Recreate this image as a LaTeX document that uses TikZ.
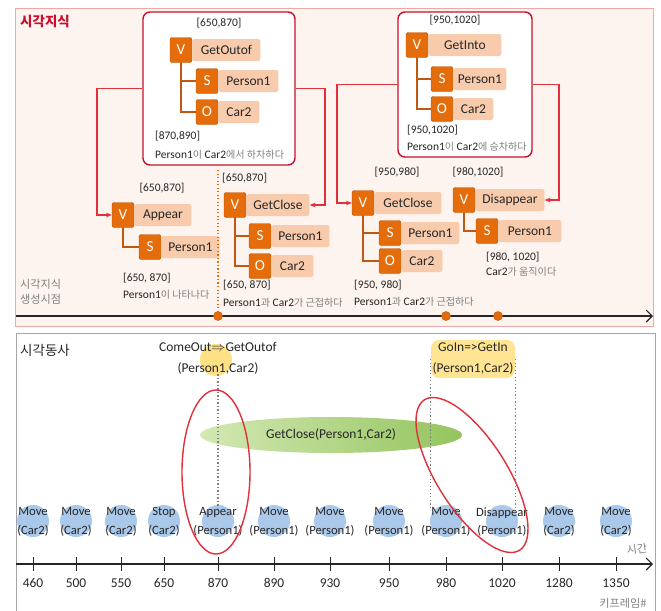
\documentclass[tikz,border=0pt]{standalone}
\usepackage{fontspec}
\setmainfont{Carlito}
\newfontfamily\krfont{Noto Sans CJK KR}
\usetikzlibrary{arrows.meta,positioning,fit}
\definecolor{Ink}{HTML}{262626}
\definecolor{Note}{HTML}{808080}
\definecolor{Rose}{HTML}{F2A7A7}
\definecolor{Blush}{HTML}{FDF3EF}
\definecolor{Crimson}{HTML}{C8102E}
\definecolor{Wire}{HTML}{E0303A}
\definecolor{Orange}{HTML}{E46C0A}
\definecolor{Rust}{HTML}{C0590F}
\definecolor{Peach}{HTML}{F8CBAD}
\definecolor{Sky}{HTML}{A9C8EA}
\definecolor{Butter}{HTML}{FFD966}
\definecolor{Lime}{HTML}{D3E8B3}
\definecolor{Leaf}{HTML}{94C45E}
\definecolor{Frame}{HTML}{A6A6A6}
\newcommand{\ko}[1]{{\krfont\fontsize{8.6}{10}\selectfont\color{Note}#1}}
\newcommand{\role}[6]{
  \node[rolebox] (#1) at (#2,#3) {#4};
  \node[namebox, minimum width=#6*0.03cm, right=0pt of #1] (#1t) {#5};
}
\tikzset{
  rolebox/.style={fill=Orange, draw=Rust, rounded corners=2pt, minimum width=0.66cm,
    minimum height=0.75cm, inner sep=0pt, text=white, font=\fontsize{13}{14}\selectfont},
  namebox/.style={fill=Peach, rounded corners=2pt, minimum height=0.66cm, inner sep=0pt,
    text=Ink, font=\fontsize{11.5}{13}\selectfont},
  tree/.style={draw=Rust, line width=1pt},
  link/.style={draw=Wire, line width=1pt, -{Stealth[length=5pt,width=4pt]}},
  outerbox/.style={draw=Crimson, line width=1.2pt, rounded corners=6pt, fill=white, inner sep=0pt},
  span/.style={text=Ink, font=\fontsize{9.8}{11}\selectfont, inner sep=0pt},
  note/.style={span, anchor=west},
  verb/.style={align=center, text=Ink, font=\fontsize{10.8}{16}\selectfont, inner sep=0pt},
  event/.style={align=center, text=Ink, font=\fontsize{11.5}{18}\selectfont, inner sep=0pt},
  axis/.style={draw=Ink, line width=1pt, -{Straight Barb[length=5pt]}},
  dot/.style={circle, fill=Orange, draw=Rust, minimum size=0.27cm, inner sep=0pt},
  cue/.style={draw=Orange, dotted, line width=1pt},
  guide/.style={draw=gray, dash pattern=on 1.2pt off 1.8pt, line width=1pt},
  ring/.style={draw=Wire, line width=1.2pt},
  tick/.style={draw=Ink, line width=0.8pt},
  caption/.style={text=Note, font=\krfont\fontsize{9.5}{13}\selectfont, inner sep=0pt}
}

\begin{document}
\begin{tikzpicture}[x=0.03cm, y=-0.03cm]
  \useasboundingbox (0,0) rectangle (661,611);
  % upper panel
  \filldraw[fill=Blush, draw=Rose, line width=0.8pt] (15,8) rectangle (653,326);
  \node[anchor=west, text=Crimson, inner sep=0pt, font=\krfont\bfseries\fontsize{11.5}{13}\selectfont] (kTitle) at (20,21) {시각지식};

  \node[outerbox, fit={(143,12) (295,165)}] (outA) {};
  \node[outerbox, fit={(398,12) (532,157)}] (outB) {};

  % GetOutof
  \node[span] (outAr) at (219,23) {[650,870]};
  \draw[tree] (181,55) |- (207,81) (181,55) |- (207,112);
  \role{ooV}{181}{50}{V}{GetOutof}{68}
  \role{ooS}{207}{81}{S}{Person1}{60}
  \role{ooO}{207}{112}{O}{Car2}{41}
  \node[note] (outAn) at (155,136) {[870,890]};
  \node[note] (outAk) at (155,155) {Person1\ko{이} Car2\ko{에서 하차하다}};

  % GetInto
  \node[span] (outBr) at (455,20) {[950,1020]};
  \draw[tree] (417,50) |- (442,79) (417,50) |- (442,109);
  \role{giV}{417}{45}{V}{GetInto}{73}
  \role{giS}{442}{79}{S}{Person1}{53}
  \role{giO}{442}{109}{O}{Car2}{40}
  \node[note] (outBn) at (407,130) {[950,1020]};
  \node[note] (outBk) at (407,147) {Person1\ko{이} Car2\ko{에 승차하다}};

  % Appear
  \node[span] (apR) at (162,188) {[650,870]};
  \draw[tree] (123,220) |- (150,247);
  \role{apV}{123}{215}{V}{Appear}{57}
  \role{apS}{150}{247}{S}{Person1}{58}
  \node[note] (apN) at (123,278) {[650, 870]};
  \node[note] (apK) at (123,295) {Person1\ko{이 나타나다}};

  % GetClose (650,870)
  \node[note] (gaR) at (222,178) {[650,870]};
  \draw[tree] (235,210) |- (260,236) (235,210) |- (260,266);
  \role{gaV}{235}{205}{V}{GetClose}{63}
  \role{gaS}{260}{236}{S}{Person1}{58}
  \role{gaO}{260}{266}{O}{Car2}{42}
  \node[note] (gaN) at (223,285) {[650, 870]};
  \node[note] (gaK) at (223,303) {Person1\ko{과} Car2\ko{가 근접하다}};

  % GetClose (950,980)
  \node[span] (gbR) at (397,172) {[950,980]};
  \draw[tree] (363,208) |- (390,233) (363,208) |- (390,261);
  \role{gbV}{363}{203}{V}{GetClose}{67}
  \role{gbS}{390}{233}{S}{Person1}{58}
  \role{gbO}{390}{261}{O}{Car2}{41}
  \node[note] (gbN) at (354,285) {[950, 980]};
  \node[note] (gbK) at (354,302) {Person1\ko{과} Car2\ko{가 근접하다}};

  % Disappear
  \node[span] (dsR) at (478,172) {[980,1020]};
  \draw[tree] (464,205) |- (487,231);
  \role{dsV}{464}{200}{V}{Disappear}{69}
  \role{dsS}{487}{231}{S}{Person1}{63}
  \node[note] (dsN) at (486,257) {[980, 1020]};
  \node[note] (dsK) at (486,272) {Car2\ko{가 움직이다}};

  % links
  \coordinate (jA) at (97,0);
  \coordinate (jB) at (325,0);
  \coordinate (jC) at (337,0);
  \coordinate (jD) at (559,0);
  \draw[link] (outA.west) -- (outA.west -| jA) |- (apV.west);
  \draw[link] (outA.east) -- (outA.east -| jB) |- (gaVt.east);
  \draw[link] (outB.west) -- (outB.west -| jC) |- (gbV.west);
  \draw[link] (outB.east) -- (outB.east -| jD) |- (dsVt.east);

  % generation time axis
  \node[caption, anchor=west, align=left] (kGen) at (20,292) {시각지식\\생성시점};
  \coordinate (tA) at (16,316);
  \coordinate (tB) at (653,316);
  \coordinate (cueTop) at (218,170);
  \draw[axis] (tA) -- (tB);
  \node[dot] (d870) at (218,316) {};
  \node[dot] (d980) at (446,316) {};
  \node[dot] (d1020) at (498,316) {};
  \draw[cue] (cueTop) -- (d870);

  % lower panel
  \draw[draw=Frame, line width=0.8pt] (16,611) -- (16,333) -- (655,333) -- (655,611);
  \node[anchor=west, text=Ink, inner sep=0pt, font=\krfont\fontsize{11.5}{13}\selectfont] (kVerb) at (20,350) {시각동사};

  \fill[Butter!80] (216,360) circle (16);
  \node[fill=Butter!70, rounded corners=7pt, minimum width=84*0.03cm, minimum height=38*0.03cm] (goinBg) at (473,359) {};
  \shade[left color=Lime, right color=Leaf] (331,435) ellipse [x radius=131, y radius=18];
  \node[event] (gcl) at (331,435) {GetClose(Person1,Car2)};
  \node[event] (cmo) at (218,358) {ComeOut$\Rightarrow$GetOutof\\(Person1,Car2)};
  \node[event] (goin) at (473,359) {GoIn=>GetIn\\(Person1,Car2)};

  \foreach \x/\k/\v/\o in {33/460/Move/Car2, 76/500/Move/Car2, 121/550/Move/Car2,
      164/650/Stop/Car2, 218/870/Appear/Person1, 274/890/Move/Person1,
      330/930/Move/Person1, 389/950/Move/Person1, 446/980/Move/Person1,
      502/1020/Disappear/Person1, 559/1280/Move/Car2, 616/1350/Move/Car2} {
    \fill[Sky] (\x,521) circle (16);
    \node[verb] (v\k) at (\x,522) {\v\\(\o)};
    \draw[tick] (\x,557) -- (\x,571);
    \node[event] (k\k) at (\x,583) {\k};
  }

  \draw[guide] (cmo.south) -- (v870.north);
  \draw[guide] (goinBg.west) -- (goinBg.west |- v980.north);
  \draw[guide] (goinBg.east) -- (goinBg.east |- v1020.north);

  \draw[ring] (216,472) ellipse [x radius=34, y radius=82];
  \draw[ring, rotate around={-57.7:(472,475)}] (472,475) ellipse [x radius=89, y radius=35];

  % key frame axis
  \coordinate (bA) at (16,564);
  \coordinate (bB) at (653,564);
  \draw[axis] (bA) -- (bB);
  \node[caption, rotate=8] (kTime) at (637,549) {시간};
  \node[caption] (kFrame) at (623,603) {키프레임\#};
\end{tikzpicture}
\end{document}
